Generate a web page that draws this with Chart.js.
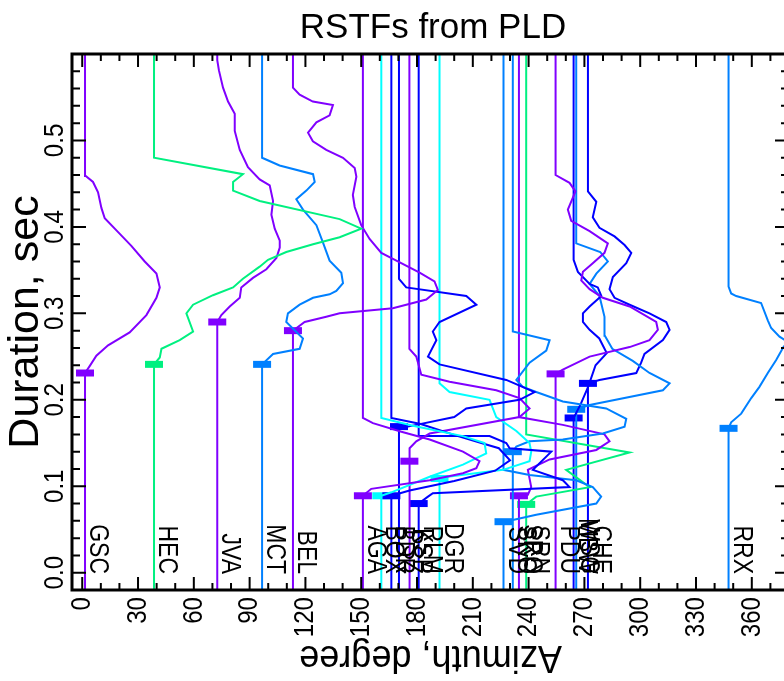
<!DOCTYPE html>
<html>
<head>
<meta charset="utf-8">
<title>RSTFs from PLD</title>
<script src="https://cdn.jsdelivr.net/npm/chart.js@4.4.0/dist/chart.umd.min.js"></script>
<style>
  html, body { margin: 0; padding: 0; background: #fff; overflow: hidden; }
  #wrap { width: 866px; height: 681px; }
</style>
</head>
<body>
<div id="wrap"><canvas id="rstfChart" width="866" height="681"></canvas></div>
<script>
// Station names, azimuths (deg) and RSTF onset times (s)
const stations = ['GSC', 'HEC', 'JVA', 'MCT', 'BEL', 'AGA', 'BOX', 'BDR', 'PSZ', 'KSP', 'RLM', 'DGR',
                  'SVD', 'SKO', 'SRO', 'SRN', 'PDU', 'MBW', 'WSG', 'CHE', 'RRX'];
const azimuths = [1.5, 38.6, 72.6, 96.7, 113.3, 150.9, 160.8, 166.2, 170.3, 175.9, 180.9, 192.1,
                  226.5, 231.5, 234.8, 238.7, 254.5, 264.2, 265.6, 271.9, 347.5];
const onsets = [0.231, 0.241, 0.290, 0.241, 0.280, 0.089, 0.089, 0.089, 0.169, 0.129, 0.080, 0.109,
                0.059, 0.140, 0.089, 0.079, 0.230, 0.179, 0.189, 0.219, 0.167];

// RSTF traces, [azimuth + amplitude, time]
const rstf = [
  [[1.5,0.231],[4,0.239],[7.6,0.251],[13.9,0.263],[25.5,0.278],[34.5,0.298],[39.9,0.318],[41.7,0.330],[39.9,0.346],[33.6,0.360],[26.4,0.378],[19.3,0.394],[12.1,0.410],[10.3,0.422],[8.5,0.440],[5.8,0.452],[1.9,0.459],[1.5,0.461]],
  [[38.6,0.241],[41.7,0.249],[42.6,0.259],[52.4,0.269],[59.6,0.279],[56,0.300],[59.6,0.310],[70.3,0.321],[81.1,0.330],[86.4,0.340],[95.4,0.354],[99.9,0.362],[109.7,0.371],[124.1,0.380],[138.4,0.388],[150,0.398],[138.4,0.409],[95.4,0.430],[81.1,0.442],[81.1,0.452],[86.4,0.461],[38.6,0.480]],
  [[72.6,0.290],[74.8,0.298],[79.3,0.308],[84.7,0.318],[85.5,0.330],[91.8,0.341],[99,0.351],[104.4,0.364],[106.2,0.376],[106.2,0.384],[103.5,0.398],[101.7,0.414],[102.6,0.430],[100.8,0.448],[95.4,0.455],[89.1,0.469],[84.7,0.489],[82,0.511],[82,0.531],[78.4,0.545],[75.7,0.561],[73.5,0.581],[72.6,0.593]],
  [[96.7,0.241],[102.6,0.253],[116.9,0.259],[118.7,0.271],[109.7,0.290],[110.6,0.300],[116.9,0.310],[124.1,0.318],[133,0.322],[136.6,0.326],[140.2,0.335],[139.3,0.347],[133,0.361],[129.4,0.382],[125.9,0.402],[118.7,0.420],[115.1,0.432],[120.5,0.442],[125,0.452],[124.1,0.461],[106.1,0.471],[96.7,0.480]],
  [[113.3,0.280],[119.6,0.290],[131.2,0.296],[138.4,0.300],[167,0.306],[185,0.316],[191.2,0.327],[189.4,0.337],[181.4,0.347],[168.9,0.361],[160.8,0.370],[154.5,0.386],[150,0.402],[146.5,0.423],[145.5,0.437],[147.4,0.458],[146.5,0.468],[140.2,0.480],[131.2,0.489],[124,0.499],[121.4,0.509],[125.9,0.521],[133,0.529],[134.8,0.541],[124,0.545],[116.9,0.553],[113.3,0.561]],
  [[150.9,0.089],[155.4,0.097],[186.8,0.107],[204.7,0.115],[211.9,0.121],[213.6,0.129],[204.7,0.140],[186.8,0.154],[171.6,0.163],[156.3,0.173],[150.9,0.179]],
  [[160.8,0.089],[166.2,0.093],[186.8,0.111],[204.7,0.125],[217.2,0.138],[216.3,0.150],[204.7,0.158],[177.8,0.170],[160.8,0.179]],
  [[166.2,0.089],[176,0.095],[200,0.106],[222,0.118],[230,0.130],[224,0.144],[202,0.158],[182,0.172],[166.2,0.179]],
  [[170.3,0.169],[175.1,0.169],[200,0.180],[206.5,0.190],[235.1,0.200],[243.2,0.209],[228,0.223],[192.1,0.241],[185.9,0.250],[190.4,0.269],[188.5,0.279],[192.1,0.290],[211.9,0.310],[206.5,0.320],[174.2,0.330],[170.3,0.340]],
  [[175.9,0.129],[176.1,0.144],[179.6,0.152],[186.8,0.161],[235.1,0.180],[240.5,0.190],[235.1,0.202],[222.6,0.211],[197.5,0.221],[182.3,0.229],[179.6,0.250],[175.9,0.259]],
  [[180.9,0.080],[185.9,0.088],[188.5,0.092],[262,0.099],[258.4,0.107],[242.3,0.119],[252.2,0.140],[229.8,0.144],[228,0.150],[219,0.158],[180.9,0.158]],
  [[192.1,0.109],[196.6,0.111],[226.2,0.119],[240.5,0.129],[241.4,0.140],[240.5,0.150],[233.4,0.164],[222.6,0.180],[219,0.200],[197.5,0.209],[192.1,0.219]],
  [[226.5,0.059],[231.5,0.061],[244.1,0.067],[276.4,0.080],[279,0.088],[274.5,0.099],[265.6,0.107],[240.5,0.113],[226.5,0.119]],
  [[231.5,0.140],[233.4,0.146],[240.5,0.152],[258.4,0.154],[279.9,0.161],[291.6,0.169],[292.5,0.178],[281.7,0.190],[258.4,0.198],[244.1,0.209],[236.9,0.215],[233.4,0.223],[240.5,0.243],[249.5,0.257],[251.3,0.269],[231.5,0.279]],
  [[234.8,0.089],[239.6,0.090],[241.4,0.099],[239.6,0.119],[251.3,0.131],[276.4,0.142],[283.5,0.152],[280.8,0.160],[258.4,0.171],[234.8,0.180]],
  [[238.7,0.079],[244.1,0.088],[272.8,0.099],[260.2,0.119],[294.3,0.139],[238.7,0.160]],
  [[254.5,0.230],[258.4,0.235],[272.8,0.250],[294.3,0.261],[305,0.269],[309.5,0.281],[308.6,0.290],[294.3,0.308],[279.9,0.318],[272.8,0.328],[268.3,0.338],[269.2,0.348],[274.5,0.358],[280.8,0.370],[282.6,0.381],[272.8,0.395],[262.9,0.407],[261.1,0.420],[265.2,0.441],[262,0.451],[254.5,0.460]],
  [[264.2,0.179],[268,0.195],[272,0.215],[276,0.240],[282,0.254],[278,0.271],[272.8,0.281],[269.2,0.290],[269.2,0.300],[272.8,0.308],[279.1,0.320],[277.2,0.330],[272.8,0.334],[266.5,0.348],[264.2,0.362]],
  [[265.6,0.189],[272.8,0.194],[312.2,0.211],[315.8,0.219],[305,0.231],[296,0.245],[285,0.259],[281,0.274],[280.8,0.296],[278.1,0.320],[272.8,0.334],[276.4,0.346],[282.6,0.360],[278.5,0.371],[265.6,0.381]],
  [[271.9,0.219],[278.1,0.223],[297.9,0.231],[300.5,0.243],[302.3,0.253],[312.2,0.269],[315.8,0.281],[314,0.290],[305,0.300],[294.3,0.310],[286.2,0.318],[283.5,0.328],[285.3,0.342],[292.5,0.358],[295.2,0.370],[291.6,0.379],[286.2,0.389],[278.1,0.399],[274.5,0.411],[276.4,0.429],[271.9,0.441]],
  [[347.5,0.167],[348.9,0.174],[354.3,0.184],[359.7,0.202],[364.1,0.215],[368.6,0.231],[373.1,0.246],[377,0.261],[379.4,0.267],[374.9,0.273],[370.4,0.283],[368.6,0.292],[365,0.312],[351.6,0.320],[348.9,0.323],[347.5,0.331]]
];

// axis limits
const azRange = [-5.5, 380];
const durRange = [-0.02, 0.6];

// colours (IDL rainbow-ish)
const VIO = '#8000ff', GRN = '#00f080', AZU = '#0080ff', BLU = '#0000ff', CYN = '#00ffff';
const colors = [VIO, GRN, VIO, AZU, VIO, VIO, CYN, BLU, BLU, VIO, BLU, CYN,
                AZU, AZU, VIO, GRN, VIO, BLU, AZU, BLU, AZU];

const FONT = 'Liberation Sans, Arial, Helvetica, sans-serif';
Chart.defaults.font.family = FONT;
Chart.defaults.color = '#000';

// each trace: vertical line at the station azimuth, with the RSTF bump in between
const datasets = stations.map(function(name, i) {
  const pts = [{x: azimuths[i], y: durRange[0]}];
  rstf[i].forEach(function(p) { pts.push({x: p[0], y: p[1]}); });
  pts.push({x: azimuths[i], y: durRange[1]});
  return {
    label: name,
    data: pts,
    showLine: true,
    borderColor: colors[i],
    borderWidth: 2,
    pointRadius: 0,
    tension: 0,
    fill: false
  };
});

// onset markers (short thick bars)
datasets.push({
  label: 'onset',
  data: stations.map(function(s, i) { return {x: azimuths[i], y: onsets[i]}; }),
  showLine: false,
  pointStyle: 'line',
  pointRadius: 9,
  pointBorderWidth: 7,
  pointBorderColor: colors,
  pointBackgroundColor: colors
});

// draw narrow (IDL-like) text, rotated
function drawText(ctx, text, x, y, angle, size, squeeze, align, baseline) {
  ctx.save();
  ctx.translate(x, y);
  ctx.rotate(angle);
  ctx.scale(squeeze, 1);
  ctx.font = size + 'px ' + FONT;
  ctx.textAlign = align;
  ctx.textBaseline = baseline;
  ctx.fillText(text, 0, 0);
  ctx.restore();
}

// frame, inward ticks, tick labels, station names and the flipped x title
const framePlugin = {
  id: 'frame',
  afterDatasetsDraw: function(chart) {
    const ctx = chart.ctx;
    const a = chart.chartArea;
    const x = chart.scales.x, y = chart.scales.y;
    ctx.save();
    ctx.fillStyle = '#000';

    // station labels, reading downwards
    stations.forEach(function(name, i) {
      drawText(ctx, name, x.getPixelForValue(azimuths[i]) + 5, 574, Math.PI / 2, 28, 0.82, 'right', 'alphabetic');
    });

    // tick marks pointing inwards
    ctx.strokeStyle = '#000';
    ctx.lineWidth = 2;
    ctx.beginPath();
    for (let v = 0; v <= azRange[1]; v += 10) {
      const px = x.getPixelForValue(v);
      const len = v % 30 === 0 ? 13 : 7;
      ctx.moveTo(px, a.bottom); ctx.lineTo(px, a.bottom - len);
      ctx.moveTo(px, a.top); ctx.lineTo(px, a.top + len);
    }
    for (let i = -1; i <= 29; i++) {
      const py = y.getPixelForValue(i * 0.02);
      const len = i % 5 === 0 ? 14 : 8;
      ctx.moveTo(a.left, py); ctx.lineTo(a.left + len, py);
      ctx.moveTo(a.right, py); ctx.lineTo(a.right - len, py);
    }
    ctx.stroke();

    // box
    ctx.lineWidth = 3;
    ctx.strokeRect(a.left, a.top, a.right - a.left, a.bottom - a.top);

    // tick labels from the scales
    x.ticks.forEach(function(t) {
      drawText(ctx, String(t.value), x.getPixelForValue(t.value), a.bottom + 7, -Math.PI / 2, 28, 0.86, 'right', 'middle');
    });
    y.ticks.forEach(function(t) {
      if (t.value > 0.55) return;
      drawText(ctx, t.value.toFixed(1), 55, y.getPixelForValue(t.value), -Math.PI / 2, 28, 0.86, 'center', 'middle');
    });

    // x title, upside down
    drawText(ctx, 'Azimuth, degree', (a.left + a.right) / 2, 646, Math.PI, 38, 0.95, 'center', 'alphabetic');
    ctx.restore();
  }
};

const ctx = document.getElementById('rstfChart').getContext('2d');
const rstfChart = new Chart(ctx, {
  type: 'scatter',
  data: { datasets: datasets },
  options: {
    responsive: false,
    animation: false,
    layout: { padding: 0 },
    plugins: {
      legend: { display: false },
      tooltip: { enabled: false },
      title: {
        display: true,
        text: 'RSTFs from PLD',
        color: '#000',
        font: { size: 35, weight: 'normal' },
        padding: { top: 7, bottom: 5 }
      }
    },
    scales: {
      x: {
        type: 'linear',
        min: azRange[0],
        max: azRange[1],
        grid: { display: false },
        border: { display: false },
        ticks: { display: false, stepSize: 30, includeBounds: false },
        afterFit: function(scale) { scale.height = 91; }
      },
      y: {
        type: 'linear',
        min: durRange[0],
        max: durRange[1],
        grid: { display: false },
        border: { display: false },
        ticks: { display: false, stepSize: 0.1, includeBounds: false },
        title: {
          display: true,
          text: 'Duration, sec',
          color: '#000',
          font: { size: 43 },
          padding: { top: 0, bottom: 0 }
        },
        afterFit: function(scale) { scale.width = 72; }
      },
      yRight: {
        type: 'linear',
        position: 'right',
        min: durRange[0],
        max: durRange[1],
        grid: { display: false },
        border: { display: false },
        ticks: { display: false },
        afterFit: function(scale) { scale.width = 77; }
      }
    }
  },
  plugins: [framePlugin]
});
</script>
</body>
</html>
